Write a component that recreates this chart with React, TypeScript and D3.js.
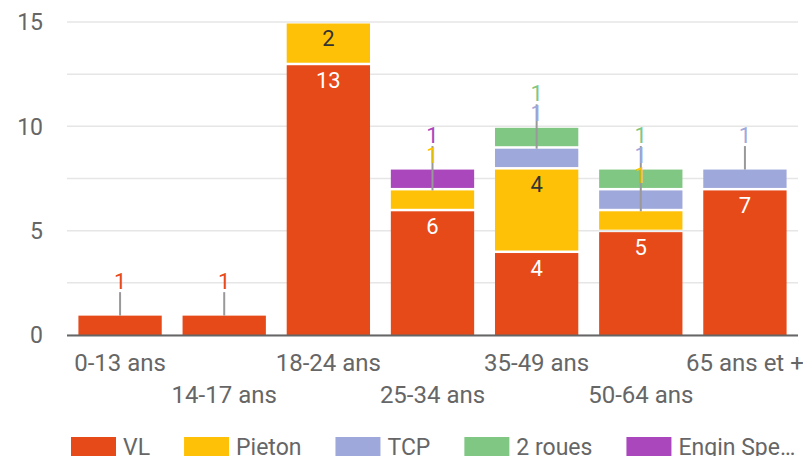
import React, { useEffect, useRef } from "react";
import * as d3 from "d3";

const categories = ["0-13 ans", "14-17 ans", "18-24 ans", "25-34 ans", "35-49 ans", "50-64 ans", "65 ans et +"];
const seriesNames = ["VL", "Pieton", "TCP", "2 roues", "Engin Spe…"];
const vl = [1, 1, 13, 6, 4, 5, 7];
const pieton = [0, 0, 2, 1, 4, 1, 0];
const tcp = [0, 0, 0, 0, 1, 1, 1];
const deuxRoues = [0, 0, 0, 0, 1, 1, 0];
const engin = [0, 0, 0, 1, 0, 0, 0];
const yTicks = [0, 5, 10, 15];
const colors = ["#e64a19", "#ffc107", "#9fa8da", "#81c784", "#ab47bc"];
const insideLabelColors = ["#ffffff", "#333333", "#333333", "#333333", "#ffffff"];

const W = 803;
const H = 456;
const FONT = "Roboto, sans-serif";

export default function App() {
  const svgRef = useRef<SVGSVGElement>(null);

  useEffect(() => {
    const svg = d3.select(svgRef.current);
    svg.selectAll("*").remove();

    const series = [vl, pieton, tcp, deuxRoues, engin];
    const rows = categories.map((c, i) => {
      const r: any = { cat: c };
      seriesNames.forEach((s, k) => (r[s] = series[k][i]));
      return r;
    });
    const stacked = d3.stack().keys(seriesNames)(rows);

    const x = d3.scaleBand().domain(categories).range([68, 797]).paddingInner(0.2).paddingOuter(0.1);
    const y = d3.scaleLinear().domain([0, 15]).range([335, 22]);

    // gridlines
    svg.append("g")
      .selectAll("line")
      .data(d3.range(0, 15.01, 2.5))
      .join("line")
      .attr("x1", 67)
      .attr("x2", 798)
      .attr("y1", (d) => y(d))
      .attr("y2", (d) => y(d))
      .attr("stroke", "#e6e6e6")
      .attr("stroke-width", 1.5);

    svg.append("g")
      .selectAll("text")
      .data(yTicks)
      .join("text")
      .attr("x", 43)
      .attr("y", (d) => y(d))
      .attr("dy", "0.36em")
      .attr("text-anchor", "end")
      .attr("font-family", FONT)
      .attr("font-size", 23)
      .attr("fill", "#666")
      .text((d) => d);

    // bars, with a thin white gap between stacked segments
    stacked.forEach((layer, k) => {
      svg.append("g")
        .selectAll("rect")
        .data(layer.filter((d) => d[1] > d[0]))
        .join("rect")
        .attr("x", (d) => x(d.data.cat)!)
        .attr("width", x.bandwidth())
        .attr("y", (d) => y(d[1]) + 1.5)
        .attr("height", (d) => y(d[0]) - y(d[1]) - 1.5 - (d[0] > 0 ? 1 : 0))
        .attr("fill", colors[k]);
    });

    // baseline
    svg.append("line")
      .attr("x1", 67)
      .attr("x2", 798)
      .attr("y1", y(0) + 0.5)
      .attr("y2", y(0) + 0.5)
      .attr("stroke", "#666")
      .attr("stroke-width", 2);

    // data labels
    const labels = svg.append("g").attr("font-family", FONT).attr("font-size", 22).attr("text-anchor", "middle");
    categories.forEach((c, i) => {
      const cx = x(c)! + x.bandwidth() / 2;
      const segs = stacked.map((layer, k) => ({ k, y0: layer[i][0], y1: layer[i][1] })).filter((s) => s.y1 > s.y0);
      const small = segs.filter((s) => y(s.y0) - y(s.y1) < 25);
      segs.filter((s) => y(s.y0) - y(s.y1) >= 25).forEach((s) => {
        labels.append("text")
          .attr("x", cx)
          .attr("y", y(s.y1) + 16.5)
          .attr("dy", "0.36em")
          .attr("fill", insideLabelColors[s.k])
          .text(s.y1 - s.y0);
      });
      if (small.length) {
        const top = y(segs[segs.length - 1].y1);
        labels.append("line")
          .attr("x1", cx)
          .attr("x2", cx)
          .attr("y1", y(small[0].y1) + 1.5)
          .attr("y2", top - 22)
          .attr("stroke", "#999")
          .attr("stroke-width", 2);
        small.slice().reverse().forEach((s, j) => {
          labels.append("text")
            .attr("x", cx)
            .attr("y", top - 33 + 20 * j)
            .attr("dy", "0.36em")
            .attr("fill", colors[s.k])
            .text(s.y1 - s.y0);
        });
      }
    });

    // x axis labels, staggered on two rows
    svg.append("g")
      .selectAll("text")
      .data(categories)
      .join("text")
      .attr("x", (d) => x(d)! + x.bandwidth() / 2)
      .attr("y", (d, i) => (i % 2 === 0 ? 371 : 403))
      .attr("text-anchor", "middle")
      .attr("font-family", FONT)
      .attr("font-size", 24)
      .attr("fill", "#666")
      .text((d) => d);

    // legend
    const legend = svg.append("g").attr("font-family", FONT).attr("font-size", 23);
    let lx = 71;
    seriesNames.forEach((s, k) => {
      legend.append("rect").attr("x", lx).attr("y", 437).attr("width", 45).attr("height", 22).attr("fill", colors[k]);
      const t = legend.append("text").attr("x", lx + 52).attr("y", 455).attr("fill", "#666").text(s);
      const tw = (t.node() as SVGTextElement).getComputedTextLength();
      lx += 52 + tw + 34;
    });
  }, []);

  return (
    <svg
      ref={svgRef}
      width={W}
      height={H}
      style={{ position: "absolute", left: 0, top: 0, background: "#fff" }}
    />
  );
}
